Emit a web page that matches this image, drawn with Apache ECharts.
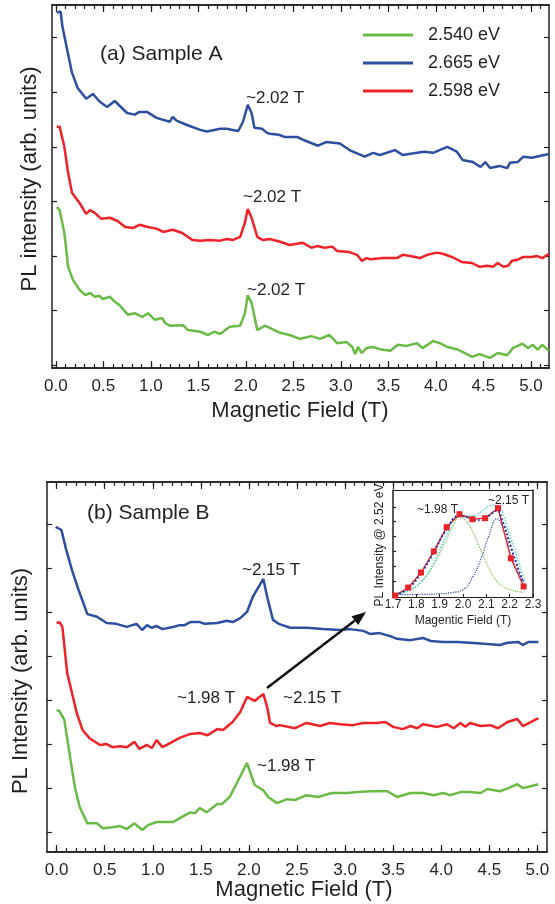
<!DOCTYPE html>
<html>
<head>
<meta charset="utf-8">
<script src="https://cdn.jsdelivr.net/npm/echarts@6/dist/echarts.min.js"></script>
<style>
html, body { margin: 0; padding: 0; background: #fff; }
#chart { width: 555px; height: 904px; }
</style>
</head>
<body>
<div id="chart"></div>
<script>
// (a) Sample A, [field (T), PL intensity (arb.)]
var aBlue = [[0.01,6.46],[0.05,6.48],[0.07,6.20],[0.12,5.78],[0.17,5.36],[0.23,5.08],[0.32,4.88],[0.39,4.97],[0.46,4.83],[0.54,4.73],[0.62,4.84],[0.75,4.62],[0.83,4.59],[0.88,4.64],[0.96,4.64],[1.06,4.53],[1.20,4.46],[1.23,4.55],[1.27,4.48],[1.38,4.40],[1.52,4.31],[1.59,4.28],[1.73,4.33],[1.80,4.33],[1.86,4.31],[1.92,4.29],[1.97,4.46],[2.02,4.77],[2.06,4.62],[2.09,4.35],[2.17,4.33],[2.22,4.26],[2.25,4.24],[2.35,4.22],[2.41,4.18],[2.54,4.18],[2.60,4.13],[2.76,4.02],[2.85,4.09],[2.99,4.06],[3.09,3.94],[3.25,3.82],[3.34,3.89],[3.41,3.85],[3.57,3.94],[3.65,3.85],[3.80,3.89],[3.88,3.91],[3.97,3.89],[4.12,4.00],[4.22,3.91],[4.28,3.76],[4.39,3.72],[4.47,3.63],[4.52,3.72],[4.57,3.61],[4.67,3.65],[4.75,3.61],[4.78,3.71],[4.86,3.72],[4.92,3.82],[5.01,3.80],[5.09,3.83],[5.19,3.87]];
var aRed = [[0.01,4.37],[0.04,4.37],[0.09,4.00],[0.13,3.52],[0.17,3.16],[0.25,2.97],[0.32,2.77],[0.36,2.84],[0.41,2.79],[0.48,2.68],[0.57,2.70],[0.65,2.64],[0.73,2.53],[0.81,2.51],[0.88,2.57],[0.97,2.53],[1.06,2.50],[1.13,2.44],[1.23,2.48],[1.33,2.42],[1.44,2.29],[1.52,2.28],[1.62,2.29],[1.73,2.28],[1.80,2.31],[1.86,2.29],[1.94,2.35],[1.99,2.61],[2.02,2.86],[2.06,2.70],[2.12,2.35],[2.18,2.29],[2.25,2.31],[2.36,2.26],[2.46,2.20],[2.60,2.24],[2.69,2.15],[2.75,2.18],[2.83,2.15],[2.91,2.17],[2.96,2.09],[3.09,2.07],[3.17,2.02],[3.22,1.91],[3.27,1.96],[3.31,1.94],[3.44,1.96],[3.59,1.96],[3.65,2.02],[3.73,2.00],[3.83,1.96],[3.91,2.02],[4.01,2.06],[4.07,2.04],[4.17,1.98],[4.27,1.89],[4.38,1.87],[4.46,1.80],[4.54,1.82],[4.60,1.80],[4.65,1.87],[4.71,1.80],[4.76,1.82],[4.80,1.91],[4.86,1.93],[4.92,1.98],[5.01,1.98],[5.06,2.00],[5.12,1.96],[5.19,2.04]];
var aGreen = [[0.01,2.90],[0.04,2.84],[0.09,2.42],[0.13,1.80],[0.18,1.56],[0.25,1.38],[0.31,1.28],[0.36,1.32],[0.41,1.25],[0.46,1.27],[0.49,1.21],[0.57,1.25],[0.62,1.16],[0.67,1.10],[0.76,0.92],[0.83,0.95],[0.91,0.88],[0.97,0.95],[1.04,0.83],[1.12,0.86],[1.15,0.77],[1.20,0.72],[1.34,0.73],[1.39,0.64],[1.52,0.61],[1.60,0.55],[1.67,0.61],[1.73,0.57],[1.83,0.70],[1.94,0.72],[1.99,0.95],[2.02,1.28],[2.06,1.14],[2.12,0.64],[2.20,0.72],[2.25,0.68],[2.36,0.59],[2.46,0.55],[2.57,0.48],[2.69,0.53],[2.78,0.48],[2.88,0.55],[2.96,0.40],[3.06,0.42],[3.12,0.33],[3.15,0.20],[3.18,0.33],[3.22,0.22],[3.27,0.31],[3.34,0.33],[3.41,0.29],[3.52,0.26],[3.60,0.37],[3.69,0.35],[3.80,0.40],[3.86,0.31],[3.97,0.44],[4.04,0.40],[4.12,0.33],[4.22,0.29],[4.28,0.24],[4.38,0.15],[4.46,0.20],[4.57,0.13],[4.65,0.22],[4.75,0.18],[4.81,0.31],[4.91,0.39],[4.97,0.31],[5.02,0.37],[5.07,0.28],[5.12,0.37],[5.19,0.26]];

// (b) Sample B
var bBlue = [[-0.01,6.93],[0.05,6.86],[0.10,6.41],[0.16,5.95],[0.22,5.55],[0.32,4.95],[0.42,4.89],[0.52,4.75],[0.62,4.73],[0.73,4.66],[0.83,4.73],[0.89,4.59],[0.94,4.70],[0.99,4.64],[1.04,4.68],[1.10,4.61],[1.21,4.66],[1.28,4.70],[1.33,4.70],[1.39,4.77],[1.49,4.77],[1.54,4.73],[1.67,4.75],[1.77,4.80],[1.83,4.77],[1.91,4.86],[1.98,5.00],[2.04,5.34],[2.15,5.75],[2.19,5.34],[2.25,4.82],[2.31,4.73],[2.43,4.64],[2.60,4.64],[2.77,4.61],[2.95,4.59],[3.05,4.61],[3.19,4.57],[3.26,4.50],[3.36,4.52],[3.47,4.45],[3.54,4.39],[3.68,4.36],[3.81,4.41],[3.89,4.34],[4.02,4.32],[4.17,4.32],[4.30,4.30],[4.48,4.27],[4.61,4.25],[4.69,4.30],[4.80,4.32],[4.85,4.25],[4.91,4.32],[5.01,4.32]];
var bRed = [[0.00,4.75],[0.03,4.77],[0.06,4.66],[0.11,3.61],[0.16,3.16],[0.21,2.70],[0.27,2.32],[0.34,2.14],[0.45,1.98],[0.52,2.00],[0.58,1.93],[0.66,1.95],[0.73,1.93],[0.81,2.05],[0.86,1.89],[0.94,1.98],[0.99,1.91],[1.04,2.09],[1.10,1.93],[1.18,2.02],[1.28,2.14],[1.39,2.23],[1.49,2.25],[1.57,2.20],[1.67,2.34],[1.73,2.32],[1.83,2.50],[1.91,2.73],[1.98,3.07],[2.06,2.98],[2.15,3.14],[2.19,2.84],[2.22,2.48],[2.29,2.41],[2.32,2.43],[2.48,2.36],[2.60,2.48],[2.74,2.41],[2.84,2.48],[2.95,2.45],[3.08,2.43],[3.19,2.48],[3.33,2.48],[3.42,2.50],[3.50,2.39],[3.60,2.34],[3.68,2.41],[3.75,2.36],[3.81,2.45],[3.96,2.39],[4.06,2.45],[4.13,2.36],[4.20,2.48],[4.25,2.39],[4.30,2.48],[4.41,2.41],[4.51,2.43],[4.59,2.36],[4.69,2.50],[4.79,2.57],[4.85,2.41],[4.93,2.50],[5.01,2.59]];
var bGreen = [[0.00,2.77],[0.03,2.75],[0.08,2.55],[0.14,1.70],[0.19,1.02],[0.24,0.57],[0.32,0.20],[0.42,0.20],[0.48,0.09],[0.58,0.11],[0.66,0.14],[0.73,0.07],[0.81,0.20],[0.89,0.05],[0.95,0.16],[1.04,0.23],[1.15,0.23],[1.21,0.23],[1.30,0.34],[1.39,0.45],[1.44,0.43],[1.49,0.55],[1.56,0.45],[1.67,0.64],[1.72,0.64],[1.80,0.80],[1.88,1.14],[1.98,1.57],[2.06,1.07],[2.15,0.95],[2.20,0.80],[2.29,0.66],[2.40,0.75],[2.48,0.73],[2.60,0.84],[2.72,0.80],[2.86,0.89],[3.02,0.89],[3.13,0.91],[3.26,0.93],[3.44,0.93],[3.54,0.80],[3.68,0.89],[3.81,0.89],[3.92,0.84],[4.02,0.89],[4.09,0.84],[4.20,0.91],[4.30,0.91],[4.41,0.89],[4.48,0.98],[4.61,0.93],[4.70,1.00],[4.79,1.09],[4.85,1.00],[5.01,1.09]];

// inset: PL @ 2.52 eV and its two-peak fit
var insetField = [1.71, 1.765, 1.82, 1.875, 1.93, 1.985, 2.04, 2.095, 2.15, 2.205, 2.26];
var insetPL = [0.00, 0.54, 1.56, 2.99, 4.63, 5.51, 5.17, 5.24, 5.92, 2.52, 0.61];
var insetFitSum = [[1.71,0.05],[1.765,0.5],[1.82,1.5],[1.875,2.95],[1.93,4.5],[1.985,5.4],[2.02,5.3],[2.05,5.1],[2.08,5.1],[2.11,5.4],[2.145,5.75],[2.17,5.0],[2.205,3.3],[2.235,1.9],[2.26,0.8]];
var insetFitAlt = [[1.71,0.05],[1.765,0.3],[1.82,0.9],[1.875,2.2],[1.93,4.1],[1.985,5.4],[2.04,5.4],[2.08,5.7],[2.12,6.1],[2.15,6.0],[2.2,4.1],[2.24,2.2],[2.265,1.0]];
var insetPeak1 = [[1.71,0.1],[1.765,0.35],[1.82,0.95],[1.875,2.1],[1.93,3.8],[1.96,4.8],[1.985,5.3],[2.01,5.1],[2.04,4.4],[2.07,3.3],[2.1,2.2],[2.13,1.3],[2.16,0.75],[2.2,0.4],[2.265,0.2]];
var insetPeak2 = [[1.71,0.05],[1.8,0.07],[1.9,0.12],[1.95,0.2],[2.0,0.4],[2.04,1.2],[2.08,2.6],[2.11,4.0],[2.145,5.2],[2.18,4.1],[2.21,2.5],[2.25,1.2],[2.265,0.9]];

// tick labels
var fieldTicksA = [0, 0.5, 1, 1.5, 2, 2.5, 3, 3.5, 4, 4.5, 5];
var fieldTicksB = [0, 0.5, 1, 1.5, 2, 2.5, 3, 3.5, 4, 4.5, 5];
var yTicksA = [0, 1, 2, 3, 4, 5, 6];
var yTicksB = [0, 1, 2, 3, 4, 5, 6, 7];
var yTicksInset = [1, 2, 3, 4, 5, 6];

var legendNames = ['2.540 eV', '2.665 eV', '2.598 eV'];
var GREEN = '#69bb46', BLUE = '#2d4f9f', RED = '#ee2328';
var FONT = '"Liberation Sans", Arial, sans-serif';
var INK = '#231f20';

function minorTicks(to) {
  var out = [];
  for (var i = 0; i <= Math.round(to * 10); i++) out.push(i / 10);
  return out;
}

// one x axis, only ticks or ticks+labels
function xAx(grid, min, max, pos, ticks, len, labels) {
  return {
    type: 'value', gridIndex: grid, min: min, max: max, position: pos,
    splitLine: { show: false },
    axisLine: { show: true, onZero: false, lineStyle: { color: INK, width: 1.5 } },
    axisTick: { show: true, inside: true, length: len, customValues: ticks, lineStyle: { color: INK, width: 1.2 } },
    axisLabel: labels ? {
      show: true, customValues: ticks, margin: 10, color: INK, fontSize: 17, fontFamily: FONT,
      formatter: function (v) { return v.toFixed(1); }
    } : { show: false }
  };
}
function yAx(grid, min, max, pos, ticks, len) {
  return {
    type: 'value', gridIndex: grid, min: min, max: max, position: pos,
    splitLine: { show: false },
    axisLine: { show: true, onZero: false, lineStyle: { color: INK, width: 1.5 } },
    axisTick: { show: ticks.length > 0, inside: true, length: len, customValues: ticks, lineStyle: { color: INK, width: 1.2 } },
    axisLabel: { show: false }
  };
}
function curve(name, data, color, xi, yi) {
  return {
    name: name, type: 'line', data: data, xAxisIndex: xi, yAxisIndex: yi,
    showSymbol: false, symbol: 'none', animation: false, color: color,
    lineStyle: { color: color, width: 2.5 }
  };
}
function dotted(data, color, width) {
  return {
    type: 'line', data: data, xAxisIndex: 8, yAxisIndex: 4, smooth: true,
    symbol: 'none', animation: false, color: color,
    lineStyle: { color: color, width: width, type: 'dotted' }
  };
}
function txt(x, y, s, size, extra) {
  var el = {
    type: 'text', x: x, y: y, z: 100,
    style: { text: s, font: size + 'px ' + FONT, fill: INK, align: 'left', verticalAlign: 'middle' }
  };
  if (extra) for (var k in extra) el[k] = extra[k];
  return el;
}

// arrow from the red peaks of (b) to the inset
var tail = [267, 688], tip = [366, 612];
var dx = tip[0] - tail[0], dy = tip[1] - tail[1], dl = Math.sqrt(dx * dx + dy * dy);
var ux = dx / dl, uy = dy / dl;
var base = [tip[0] - 14 * ux, tip[1] - 14 * uy];

var chart = echarts.init(document.getElementById('chart'));
chart.setOption({
  backgroundColor: '#fff',
  animation: false,
  grid: [
    { left: 52, top: 5, right: 6, bottom: 536 },
    { left: 47, top: 482, right: 8, bottom: 52 },
    { left: 393, top: 490, right: 22, bottom: 307, show: true, backgroundColor: '#fff', borderWidth: 0 }
  ],
  legend: {
    data: legendNames, orient: 'vertical', left: 358, top: 19,
    icon: 'rect', itemWidth: 50, itemHeight: 3, itemGap: 6,
    textStyle: { fontSize: 18, fontFamily: FONT, color: INK, lineHeight: 22, padding: [0, 0, 0, 10] }
  },
  xAxis: [
    xAx(0, -0.04, 5.19, 'bottom', fieldTicksA, 7, true),
    xAx(0, -0.04, 5.19, 'bottom', minorTicks(5.1), 4, false),
    xAx(0, -0.04, 5.19, 'top', fieldTicksA, 7, false),
    xAx(0, -0.04, 5.19, 'top', minorTicks(5.1), 4, false),
    xAx(1, -0.1, 5.1, 'bottom', fieldTicksB, 7, true),
    xAx(1, -0.1, 5.1, 'bottom', minorTicks(5.0), 4, false),
    xAx(1, -0.1, 5.1, 'top', fieldTicksB, 7, false),
    xAx(1, -0.1, 5.1, 'top', minorTicks(5.0), 4, false),
    {
      type: 'value', gridIndex: 2, min: 1.7, max: 2.3, interval: 0.1, position: 'bottom',
      splitLine: { show: false },
      axisLine: { onZero: false, lineStyle: { color: INK, width: 1 } },
      axisTick: { inside: true, length: 3, lineStyle: { color: INK } },
      axisLabel: { margin: 2, color: INK, fontSize: 12, fontFamily: FONT, formatter: function (v) { return v.toFixed(1); } }
    },
    {
      type: 'value', gridIndex: 2, min: 1.7, max: 2.3, position: 'top',
      splitLine: { show: false },
      axisLine: { onZero: false, lineStyle: { color: INK, width: 1 } },
      axisTick: { show: false }, axisLabel: { show: false }
    }
  ],
  yAxis: [
    yAx(0, -0.055, 6.6, 'left', yTicksA, 5),
    yAx(0, -0.055, 6.6, 'right', yTicksA, 5),
    yAx(1, -0.45, 7.95, 'left', yTicksB, 5),
    yAx(1, -0.45, 7.95, 'right', yTicksB, 5),
    yAx(2, -0.1, 7.15, 'left', yTicksInset, 3),
    yAx(2, -0.1, 7.15, 'right', [], 3)
  ],
  series: [
    curve('2.540 eV', aGreen, GREEN, 0, 0),
    curve('2.665 eV', aBlue, BLUE, 0, 0),
    curve('2.598 eV', aRed, RED, 0, 0),
    curve('B 2.540 eV', bGreen, GREEN, 4, 2),
    curve('B 2.665 eV', bBlue, BLUE, 4, 2),
    curve('B 2.598 eV', bRed, RED, 4, 2),
    dotted(insetPeak1, '#7dc142', 1.2),
    dotted(insetPeak2, '#3447a8', 1.2),
    dotted(insetFitAlt, '#5fd0d8', 1.5),
    {
      type: 'line', xAxisIndex: 8, yAxisIndex: 4, animation: false,
      data: insetField.map(function (f, i) { return [f, insetPL[i]]; }),
      symbol: 'rect', symbolSize: 6, color: '#e8232a',
      itemStyle: { color: '#e8232a' }, lineStyle: { color: '#e8232a', width: 1.3 }
    },
    dotted(insetFitSum, '#24379a', 2)
  ],
  graphic: [
    txt(100, 54, '(a) Sample A', 21),
    txt(246, 98, '~2.02 T', 17),
    txt(243, 197, '~2.02 T', 17),
    txt(247, 290, '~2.02 T', 17),
    txt(87, 513, '(b) Sample B', 21),
    txt(242, 570, '~2.15 T', 17),
    txt(177, 698, '~1.98 T', 17),
    txt(283, 698, '~2.15 T', 17),
    txt(257, 766, '~1.98 T', 17),
    txt(417, 510, '~1.98 T', 12),
    txt(488, 501, '~2.15 T', 12),
    txt(300, 411, 'Magnetic Field (T)', 22, { style: { text: 'Magnetic Field (T)', font: '22px ' + FONT, fill: INK, align: 'center', verticalAlign: 'middle' } }),
    txt(304, 890, 'Magnetic Field (T)', 22, { style: { text: 'Magnetic Field (T)', font: '22px ' + FONT, fill: INK, align: 'center', verticalAlign: 'middle' } }),
    txt(463, 621, 'Magentic Field (T)', 12, { style: { text: 'Magentic Field (T)', font: '12px ' + FONT, fill: INK, align: 'center', verticalAlign: 'middle' } }),
    txt(30, 179, 'PL intensity (arb. units)', 22, { rotation: Math.PI / 2, style: { text: 'PL intensity (arb. units)', font: '22px ' + FONT, fill: INK, align: 'center', verticalAlign: 'middle' } }),
    txt(21, 681, 'PL Intensity (arb. units)', 22, { rotation: Math.PI / 2, style: { text: 'PL Intensity (arb. units)', font: '22px ' + FONT, fill: INK, align: 'center', verticalAlign: 'middle' } }),
    txt(380, 545, 'PL Intensity @ 2.52 eV', 12, { rotation: Math.PI / 2, style: { text: 'PL Intensity @ 2.52 eV', font: '12px ' + FONT, fill: INK, align: 'center', verticalAlign: 'middle' } }),
    {
      type: 'line', z: 100,
      shape: { x1: tail[0], y1: tail[1], x2: base[0], y2: base[1] },
      style: { stroke: '#111', lineWidth: 2.5 }
    },
    {
      type: 'polygon', z: 100,
      shape: { points: [tip, [base[0] + 5.5 * uy * -1, base[1] + 5.5 * ux], [base[0] - 5.5 * uy * -1, base[1] - 5.5 * ux]] },
      style: { fill: '#111' }
    }
  ]
});
</script>
</body>
</html>
